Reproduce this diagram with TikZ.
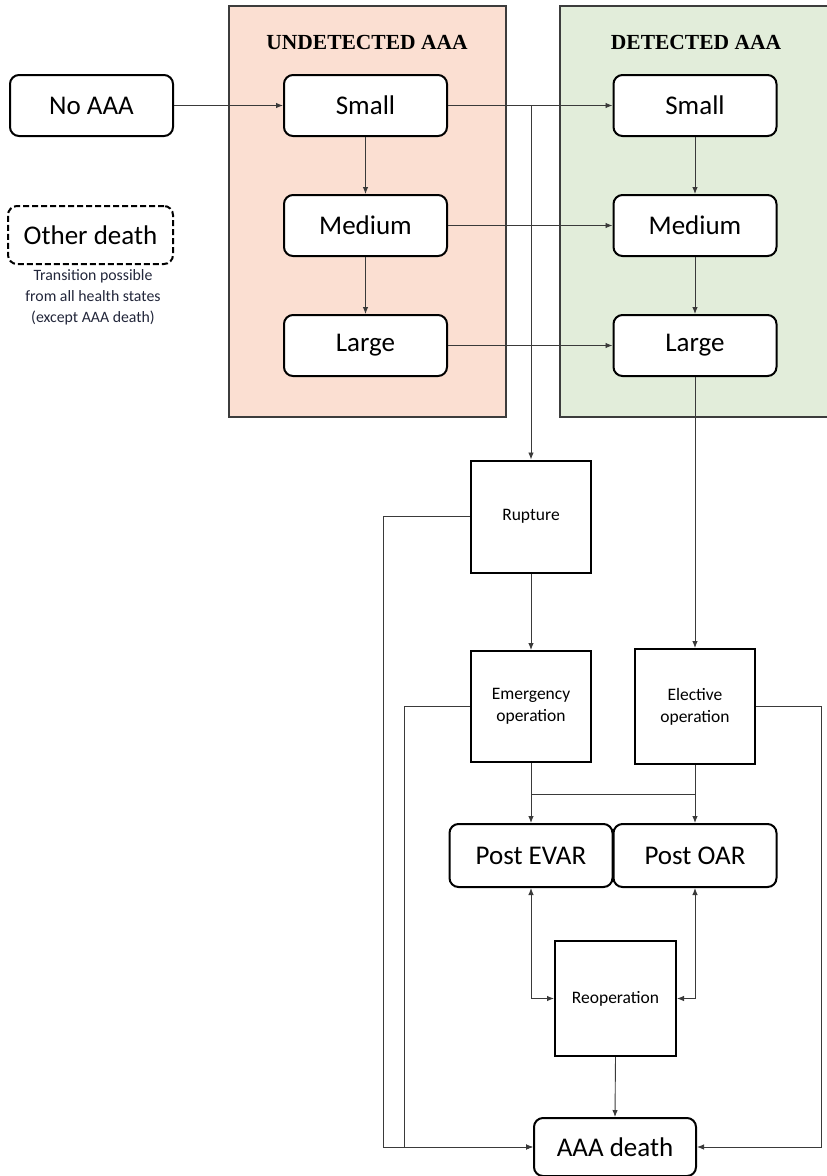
\documentclass[tikz,border=0pt]{standalone}
\usepackage{fontspec}
\setmainfont{Carlito}
\newfontfamily\titlefont{Liberation Serif}
\usetikzlibrary{arrows.meta}
\definecolor{undet}{HTML}{FBDFD2}
\definecolor{detc}{HTML}{E2EDDA}
\definecolor{panelline}{HTML}{3C3C3C}
\definecolor{conn}{HTML}{3A3A3A}
\definecolor{notecol}{HTML}{22263A}
\begin{document}
\begin{tikzpicture}[x=1pt,y=-1pt,
  state/.style={draw=black,line width=2pt,rounded corners=9pt,fill=white,
    minimum width=163pt,minimum height=61pt,inner sep=0pt,
    font=\fontsize{27}{32}\selectfont},
  sq/.style={draw=black,line width=2pt,fill=white,
    minimum width=120pt,minimum height=112pt,inner sep=0pt,align=center,
    font=\fontsize{17.5}{22}\selectfont},
  ttl/.style={font=\titlefont\bfseries\fontsize{21.5}{25}\selectfont},
  link/.style={draw=conn,line width=0.9pt},
  arr/.style={link,-{Latex[length=7pt,width=5.5pt]}},
  darr/.style={link,{Latex[length=7pt,width=5.5pt]}-{Latex[length=7pt,width=5.5pt]}}
]
\useasboundingbox (0,0) rectangle (827,1176);
% panels
\fill[undet] (229,6) rectangle (506,417);
\draw[panelline,line width=1.2pt] (229,6) rectangle (506,417);
\fill[detc] (560,6) rectangle (827,417);
\draw[panelline,line width=1.2pt] (827,6) -- (560,6) -- (560,417) -- (827,417);
\node[ttl] (tu) at (367,42) {UNDETECTED AAA};
\node[ttl] (td) at (696,42) {DETECTED AAA};

% states
\node[state] (noaaa) at (91.5,105.5) {No AAA};
\node[state] (us) at (365.5,105.5) {Small};
\node[state] (um) at (365.5,225.5) {Medium};
\node[state] (ul) at (365.5,345.5) {Large};
\node[state] (ds) at (695,105.5) {Small};
\node[state] (dm) at (695,225.5) {Medium};
\node[state] (dl) at (695,345.5) {Large};
\node[state,dash pattern=on 6pt off 3pt,minimum width=165pt,minimum height=58pt] (other) at (90.5,235) {Other death};
\node[font=\fontsize{15.8}{21}\selectfont,text=notecol,align=center,inner sep=0pt] (note) at (93,297)
  {Transition possible\\from all health states\\(except AAA death)};

\node[sq] (rupture) at (531,516.5) {Rupture};
\node[sq,minimum height=111pt] (emerg) at (531,706.5) {Emergency\\operation};
\node[sq,minimum height=115pt] (elect) at (695,706.5) {Elective\\operation};
\node[state,minimum height=63pt] (pevar) at (531,855.5) {Post EVAR};
\node[state,minimum height=63pt] (poar) at (695,855.5) {Post OAR};
\node[sq,minimum width=121pt,minimum height=115pt] (reop) at (615.5,998.5) {Reoperation};
\node[state,minimum width=162pt,minimum height=58pt] (death) at (615,1147) {AAA death};

% coordinates
\coordinate (j1) at (rupture.north |- us.east);
\coordinate (lr) at (383,516.5);
\coordinate (le) at (404,706.5);
\coordinate (re) at (821,706.5);
\coordinate (jm) at (531,794);
\coordinate (jn) at (695,794);

% connectors
\draw[arr] (noaaa.east) -- (us.west);
\draw[arr] (us.east) -- (ds.west);
\draw[arr] (j1) -- (rupture.north);
\draw[arr] (um.east) -- (dm.west);
\draw[arr] (ul.east) -- (dl.west);
\draw[arr] (us.south) -- (um.north);
\draw[arr] (um.south) -- (ul.north);
\draw[arr] (ds.south) -- (dm.north);
\draw[arr] (dm.south) -- (dl.north);
\draw[arr] (dl.south) -- (elect.north);
\draw[arr] (rupture.south) -- (emerg.north);
\draw[arr] (rupture.west) -- (lr) |- (death.west);
\draw[arr] (emerg.west) -- (le) |- (death.west);
\draw[arr] (elect.east) -- (re) |- (death.east);
\draw[arr] (emerg.south) -- (pevar.north);
\draw[arr] (elect.south) -- (poar.north);
\draw[link] (jm) -- (jn);
\draw[darr] (pevar.south) |- (reop.west);
\draw[darr] (poar.south) |- (reop.east);
\draw[arr] (reop.south) -- (death.north);
\end{tikzpicture}
\end{document}
